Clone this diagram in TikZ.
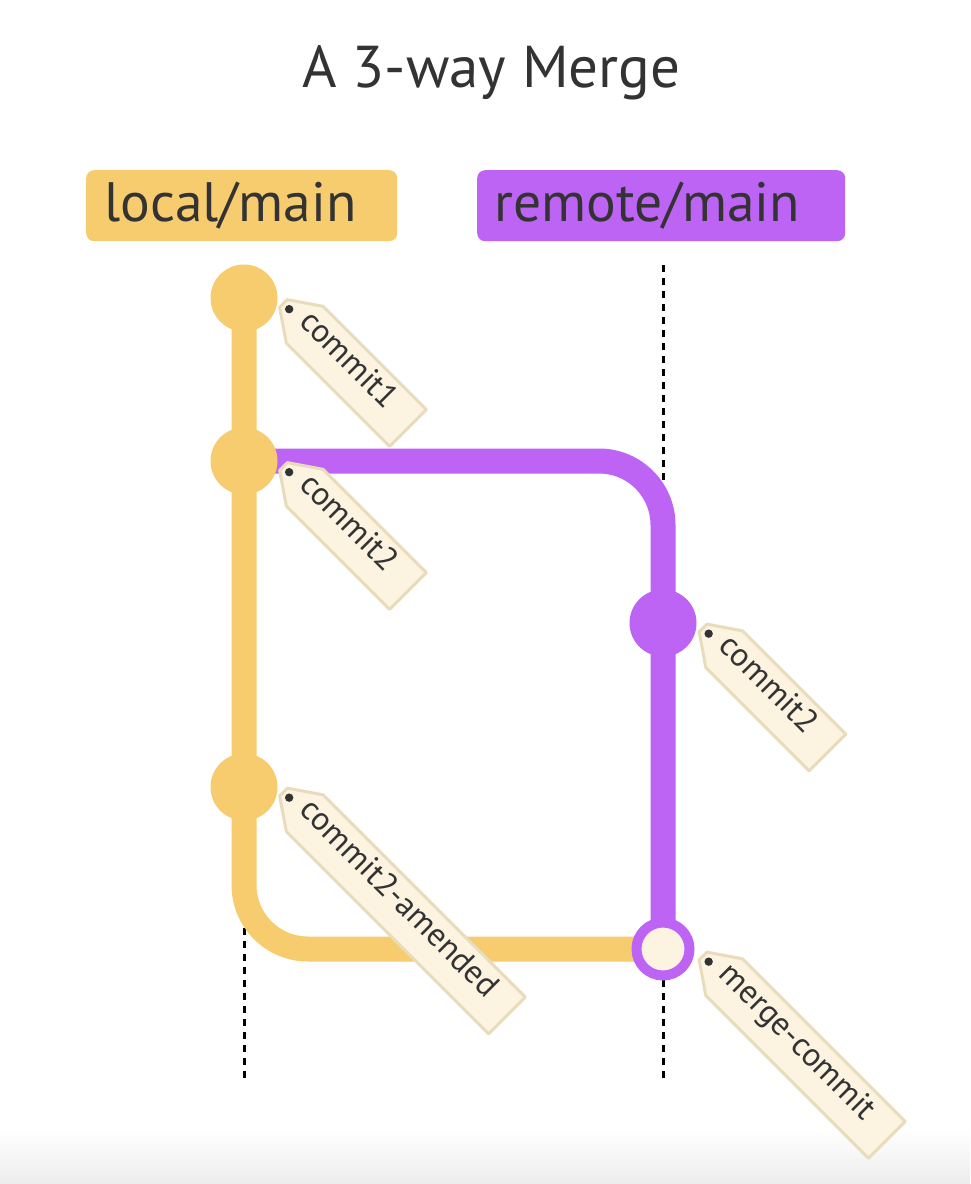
\documentclass[tikz,border=0pt]{standalone}
\usepackage{fontspec}
\setmainfont{PT Sans}
\definecolor{gityellow}{HTML}{F7CC6E}
\definecolor{gitpurple}{HTML}{BE64F5}
\definecolor{tagfill}{HTML}{FCF3E0}
\definecolor{tagborder}{HTML}{E8DCBC}
\definecolor{textgray}{HTML}{333333}
\tikzset{
  branchbox/.style={rounded corners=8pt, inner sep=0pt, anchor=north west},
  branchtext/.style={font=\fontsize{55.5}{66}\selectfont, text=textgray, anchor=base west, inner sep=0pt},
  guide/.style={line width=3pt, dash pattern=on 6.5pt off 6.5pt, black},
  branchline/.style={line width=25pt, rounded corners=64pt},
  commitdot/.style={circle, minimum size=67pt, inner sep=0pt},
  tagshape/.style={fill=tagfill, draw=tagborder, line width=3pt, line join=round},
  tagtext/.style={font=\fontsize{33}{40}\selectfont, text=textgray, anchor=mid west, inner sep=0pt, transform shape},
}
\newcommand{\gittag}[5]{%
  \begin{scope}[shift={(#2)}, rotate=-45]
    \draw[tagshape] (0,5.5) -- (30,26) -- (#3,26) -- (#3,-26) -- (30,-26) -- (0,-5.5) -- cycle;
    \fill[textgray] (8,0) circle (4.2);
    \node[tagtext] (#1) at (24,-1) {#4#5};
  \end{scope}}
\begin{document}
\begin{tikzpicture}[x=1pt,y=1pt]
\useasboundingbox (0,0) rectangle (970,-1184);
\fill[white] (0,0) rectangle (970,-1184);
\shade[top color=white, bottom color=black!7] (0,-1128) rectangle (970,-1184);

% title
\node[font=\fontsize{59}{70}\selectfont, text=textgray, anchor=base, inner sep=0pt] (title) at (491.5,-87) {A 3-way Merge};

% branch labels
\node[branchbox, fill=gityellow, minimum width=311pt, minimum height=71pt] (lbox) at (86,-170) {};
\node[branchtext] (ltext) at (104,-221) {local/main};
\node[branchbox, fill=gitpurple, minimum width=368pt, minimum height=71pt] (rbox) at (477,-170) {};
\node[branchtext] (rtext) at (494,-221) {remote/main};

% guides
\coordinate (ltop) at (244,-265);
\coordinate (lbot) at (244,-1080);
\coordinate (rtop) at (663,-265);
\coordinate (rbot) at (663,-1080);
\draw[guide] (ltop) -- (lbot);
\draw[guide] (rtop) -- (rbot);

% commit positions
\coordinate (p1) at (244,-298);
\coordinate (p2) at (244,-461);
\coordinate (p3) at (663,-623);
\coordinate (p4) at (244,-787);
\coordinate (pm) at (663,-949);

% branch lines
\draw[branchline, gityellow] (p1) |- (pm);
\draw[branchline, gitpurple] (p2) -| (pm);

% commits
\node[commitdot, fill=gityellow] (c1) at (p1) {};
\node[commitdot, fill=gityellow] (c2) at (p2) {};
\node[commitdot, fill=gitpurple] (c3) at (p3) {};
\node[commitdot, fill=gityellow] (c4) at (p4) {};
\node[circle, minimum size=53pt, inner sep=0pt, fill=tagfill, draw=gitpurple, line width=10pt] (cm) at (pm) {};

% tags
\gittag{t1}{283.5,-303.5}{176}{commit1}{}
\gittag{t2}{283.5,-466.5}{176}{commit2}{}
\gittag{t3}{703,-628}{176}{commit2}{}
\gittag{t4}{283.5,-792}{316}{commit2-amended}{}
\gittag{t5}{703,-956}{260}{merge-commit}{}
\end{tikzpicture}
\end{document}
